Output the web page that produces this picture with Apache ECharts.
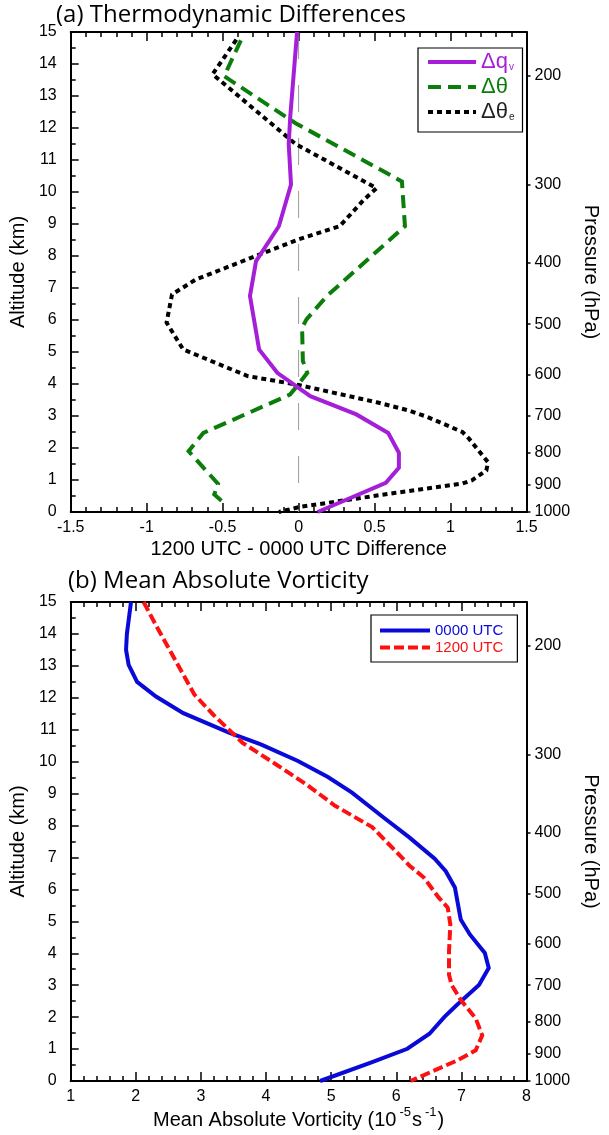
<!DOCTYPE html>
<html><head><meta charset="utf-8">
<script src="https://cdn.jsdelivr.net/npm/echarts@6/dist/echarts.min.js"></script>
<style>html,body{margin:0;padding:0;background:#fff}#c{width:609px;height:1135px}</style>
</head><body><div id="c"></div>
<script>
// ---- Data (x value, altitude km) ----
const dQv = [[-0.01,15],[-0.055,12.35],[-0.065,11.5],[-0.05,10.23],[-0.13,8.93],[-0.28,7.84],[-0.32,6.75],[-0.26,5.08],[-0.14,4.35],[0.077,3.62],[0.38,3.05],[0.59,2.47],[0.66,1.85],[0.66,1.38],[0.574,0.91],[0.125,0]];
const dTheta = [[-0.38,14.74],[-0.49,13.62],[-0.02,12.15],[0.68,10.33],[0.70,8.93],[0.186,6.75],[0.052,6.02],[0.023,5.76],[0.028,4.72],[0.057,4.35],[-0.009,3.94],[-0.057,3.67],[-0.627,2.47],[-0.724,1.90],[-0.53,0.88],[-0.555,0.55],[-0.49,0.28]];
const dThetaE = [[-0.41,14.76],[-0.566,13.68],[-0.02,11.5],[0.513,10.12],[0.43,9.76],[0.27,8.93],[0.0,8.52],[-0.675,7.27],[-0.833,6.8],[-0.869,5.92],[-0.76,5.08],[-0.627,4.82],[-0.336,4.25],[0.0,3.97],[0.513,3.43],[0.72,3.18],[0.848,2.97],[1.078,2.50],[1.12,2.30],[1.183,1.93],[1.246,1.56],[1.236,1.30],[1.14,0.99],[1.078,0.89],[0.64,0.6],[0.01,0.16],[-0.13,0.0]];
const zeroLine = [[0,15],[0,0]];
const vort00 = [[1.926,15],[1.863,14.0],[1.85,13.5],[1.89,13.03],[2.02,12.5],[2.31,12.04],[2.73,11.52],[3.44,10.9],[3.92,10.54],[4.49,10.02],[4.95,9.52],[5.32,9.03],[5.8,8.26],[6.2,7.63],[6.59,6.96],[6.76,6.57],[6.9,6.06],[6.99,5.06],[7.13,4.59],[7.36,4.01],[7.42,3.54],[7.27,3.01],[6.93,2.38],[6.74,2.01],[6.51,1.48],[6.17,1.01],[5.63,0.59],[4.83,0]];
const vort12 = [[2.12,15],[2.31,14.27],[2.62,13.13],[2.9,12.1],[3.19,11.47],[3.64,10.59],[4.15,9.92],[4.61,9.3],[5.06,8.62],[5.63,7.95],[6.08,7.01],[6.2,6.75],[6.42,6.38],[6.65,5.75],[6.79,5.43],[6.83,4.9],[6.81,4.06],[6.81,3.33],[6.85,3.01],[6.99,2.54],[7.22,1.96],[7.32,1.43],[7.22,0.96],[6.93,0.64],[6.22,0]];
const pressureLabels = ['1000','900','800','700','600','500','400','300','200'];
const pressureHeights = [0,0.86,1.85,3.0,4.3,5.87,7.78,10.22,13.64];

const AR = "'Liberation Sans', Arial, sans-serif";
const TF = "'Open Sans', 'Noto Sans', sans-serif";
const BLACK = '#000';
const PURPLE = '#a51ed8', GREEN = '#0b7d0b', BLUE = '#0a0ad8', RED = '#ff1010';

function pressFmt(v){ const i = pressureHeights.findIndex(h => Math.abs(h - v) < 1e-6); return i >= 0 ? pressureLabels[i] : ''; }

const axLine = {show:true, onZero:false, lineStyle:{color:BLACK, width:2}};
function xAx(grid, pos, min, max, intv, minorSplit, labels, name, nameGap, rich){
  return {type:'value', gridIndex:grid, position:pos, min:min, max:max, interval:intv,
    axisLine:axLine,
    axisTick:{show:true, inside:true, length:9, lineStyle:{color:BLACK, width:1.5}},
    minorTick:{show:true, splitNumber:minorSplit, length:5, lineStyle:{color:BLACK, width:1.5}},
    splitLine:{show:false}, minorSplitLine:{show:false},
    axisLabel:{show:labels, color:BLACK, fontFamily:AR, fontSize:16, margin:8},
    name:name||'', nameLocation:'middle', nameGap:nameGap||0,
    nameTextStyle:{color:BLACK, fontFamily:AR, fontSize:20, rich:rich}};
}
function yLeft(grid){
  return {type:'value', gridIndex:grid, position:'left', min:0, max:15, interval:1,
    axisLine:axLine,
    axisTick:{show:true, inside:true, length:8, lineStyle:{color:BLACK, width:1.5}},
    minorTick:{show:true, splitNumber:2, length:5, lineStyle:{color:BLACK, width:1.5}},
    splitLine:{show:false}, minorSplitLine:{show:false},
    axisLabel:{color:BLACK, fontFamily:AR, fontSize:16, margin:14},
    name:'Altitude (km)', nameLocation:'middle', nameGap:31,
    nameTextStyle:{color:BLACK, fontFamily:AR, fontSize:20}};
}
function yRight(grid){
  return {type:'value', gridIndex:grid, position:'right', min:0, max:15,
    axisLine:axLine,
    axisTick:{show:true, inside:false, length:4, customValues:pressureHeights, lineStyle:{color:BLACK, width:1.5}},
    splitLine:{show:false},
    axisLabel:{color:BLACK, fontFamily:AR, fontSize:16, margin:8, customValues:pressureHeights, formatter:pressFmt},
    name:'Pressure (hPa)', nameLocation:'middle', nameRotate:-90, nameGap:46,
    nameTextStyle:{color:BLACK, fontFamily:AR, fontSize:20}};
}
function line(name, data, xi, yi, color, width, type, z){
  return {name:name, type:'line', data:data, xAxisIndex:xi, yAxisIndex:yi, symbol:'none', showSymbol:false,
    silent:true, animation:false, z:z, lineStyle:{color:color, width:width, type:type, cap:'butt', join:'miter'}, itemStyle:{color:color}};
}

const chart = echarts.init(document.getElementById('c'), null, {renderer:'canvas'});
chart.setOption({
  animation:false,
  backgroundColor:'#fff',
  title:[
    {text:'(a) Thermodynamic Differences', left:56, top:3, padding:0, textStyle:{fontFamily:TF, fontSize:24, fontWeight:'normal', color:BLACK}},
    {text:'(b) Mean Absolute Vorticity', left:68, top:569, padding:0, textStyle:{fontFamily:TF, fontSize:24, fontWeight:'normal', color:BLACK}}
  ],
  grid:[
    {left:60, top:32, right:72, height:480},
    {left:56, top:602, right:74, height:479}
  ],
  xAxis:[
    xAx(0,'bottom',-1.5,1.5,0.5,5,true,'1200 UTC - 0000 UTC Difference',27),
    xAx(0,'top',-1.5,1.5,0.5,5,false),
    xAx(1,'bottom',1,8,1,5,true,'{n|Mean Absolute Vorticity (10}{s|-5}{n|s}{s|-1}{n|)}',25,
        {n:{fontFamily:AR, fontSize:20, color:BLACK, lineHeight:24, verticalAlign:'bottom'}, s:{fontFamily:AR, fontSize:13, color:BLACK, lineHeight:24, verticalAlign:'top', padding:[0,1,0,3]}}),
    xAx(1,'top',1,8,1,5,false)
  ],
  yAxis:[ yLeft(0), yRight(0), yLeft(1), yRight(1) ],
  legend:[
    {orient:'vertical', left:418, top:48, padding:[3,8,9,8], borderColor:BLACK, borderWidth:1.2, borderRadius:0,
     itemWidth:48, itemHeight:20, itemGap:3, selectedMode:false,
     itemStyle:{opacity:0, color:'rgba(0,0,0,0)', borderWidth:0},
     data:[{name:'Δqv', textStyle:{color:PURPLE}}, {name:'Δθ', textStyle:{color:GREEN}}, {name:'Δθe', textStyle:{color:'#222'}}],
     formatter:function(n){ if(n==='Δqv') return '{m|Δq}{s|v}'; if(n==='Δθe') return '{m|Δθ}{s|e}'; return '{m|Δθ}'; },
     lineStyle:{width:4},
     textStyle:{fontFamily:AR, fontSize:20, rich:{m:{fontFamily:AR, fontSize:22, lineHeight:20}, s:{fontFamily:AR, fontSize:10, lineHeight:8, verticalAlign:'bottom', padding:[0,0,0,1]}}}},
    {orient:'vertical', left:371, top:615, padding:[8,14,7,7], borderColor:BLACK, borderWidth:1.2, borderRadius:0,
     itemWidth:50, itemHeight:16, itemGap:2, selectedMode:false,
     itemStyle:{opacity:0, color:'rgba(0,0,0,0)', borderWidth:0},
     data:[{name:'0000 UTC', textStyle:{color:BLUE}}, {name:'1200 UTC', textStyle:{color:RED}}],
     lineStyle:{width:4},
     textStyle:{fontFamily:AR, fontSize:15}}
  ],
  series:[
    line('zero', zeroLine, 0, 0, '#9a9a9a', 1, [27,26], 1),
    line('Δθe', dThetaE, 0, 0, BLACK, 4, [5,4], 2),
    line('Δθ', dTheta, 0, 0, GREEN, 4, [13,7], 3),
    line('Δqv', dQv, 0, 0, PURPLE, 4, 'solid', 4),
    line('0000 UTC', vort00, 2, 2, BLUE, 4, 'solid', 2),
    line('1200 UTC', vort12, 2, 2, RED, 4, [10,4], 3)
  ]
});
</script></body></html>
